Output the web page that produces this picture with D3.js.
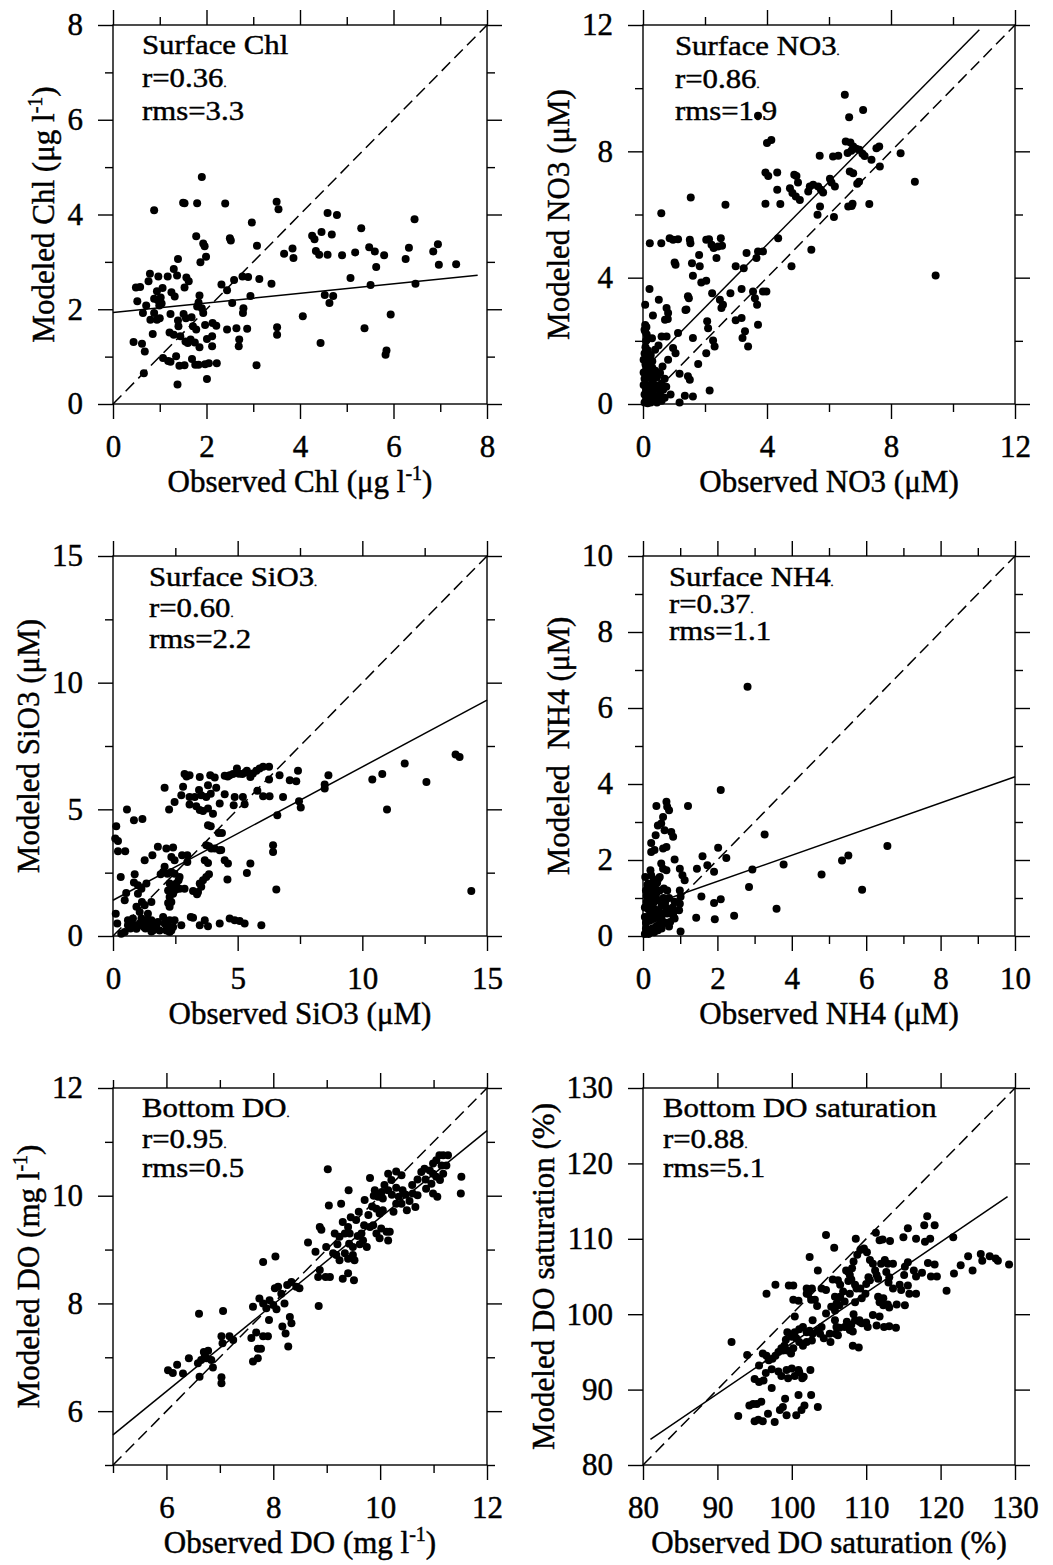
<!DOCTYPE html>
<html>
<head>
<meta charset="utf-8">
<script src="https://cdn.jsdelivr.net/npm/d3@7"></script>
<style>
  body { margin: 0; background: #fff; }
  svg text { font-family: "Liberation Serif", "Times New Roman", serif; fill: #000; stroke: #000; stroke-width: 0.45px; }
</style>
</head>
<body>
<svg id="chart" width="1053" height="1565"></svg>
<script>
// ---- data: [observed, modeled] ----
const chlPts = [
  [1.90,4.79],[0.88,4.09],[1.50,4.25],[1.53,4.24],[1.80,4.24],[2.40,4.23],[3.50,4.27],[3.54,4.11],[2.97,3.83],[1.78,3.54],
  [1.93,3.39],[1.96,3.33],[2.50,3.50],[2.52,3.45],[3.08,3.34],[1.99,3.11],[1.87,2.99],[1.39,3.06],[3.66,3.17],[3.84,3.28],
  [3.86,3.08],[0.79,2.75],[0.49,2.46],[0.58,2.47],[0.76,2.59],[0.97,2.69],[1.17,2.69],[1.30,2.85],[1.37,2.71],[1.57,2.67],
  [1.62,2.59],[1.06,2.45],[0.94,2.38],[1.02,2.25],[0.96,2.19],[0.88,2.22],[1.04,2.12],[0.99,2.08],[1.25,2.36],[1.32,2.27],
  [1.53,2.46],[0.52,2.17],[0.71,2.08],[0.64,1.92],[0.80,1.78],[0.88,1.92],[0.94,1.78],[1.00,1.81],[0.85,1.48],[0.44,1.31],
  [0.62,1.27],[0.68,1.11],[0.66,0.65],[1.07,0.97],[1.18,0.91],[1.23,0.89],[1.35,1.01],[1.42,0.81],[1.53,0.82],[1.69,0.95],
  [1.76,0.83],[1.83,0.83],[1.97,0.84],[2.05,0.86],[2.22,0.86],[1.38,0.41],[2.01,0.53],[3.07,0.82],[1.23,1.90],[1.39,1.76],
  [1.51,1.90],[1.56,1.81],[1.40,1.64],[1.21,1.51],[1.30,1.46],[1.44,1.43],[1.55,1.32],[1.60,1.29],[1.68,1.83],[1.71,1.64],
  [1.78,1.57],[1.66,1.36],[1.75,1.30],[1.85,1.20],[1.83,2.14],[1.85,2.29],[1.90,2.02],[1.93,1.92],[1.80,2.06],[1.97,1.67],
  [2.01,1.37],[2.12,1.43],[2.13,1.71],[2.21,1.65],[2.12,1.22],[2.32,2.52],[2.44,2.40],[2.59,2.62],[2.55,2.13],[2.77,2.69],
  [2.89,2.68],[2.94,2.28],[2.79,2.02],[2.78,1.92],[3.13,2.64],[3.39,2.54],[2.44,1.57],[2.64,1.60],[2.70,1.36],[2.69,1.22],
  [2.87,1.59],[3.51,1.62],[3.51,1.46],[4.06,1.85],[4.26,3.55],[4.31,3.48],[4.46,3.63],[4.59,4.03],[4.79,3.99],[4.34,3.23],
  [4.41,3.15],[4.59,3.15],[4.68,3.58],[4.53,2.30],[4.63,2.13],[4.71,2.28],[4.44,1.29],[4.90,3.14],[5.08,2.66],[5.18,3.20],
  [5.31,3.71],[5.38,1.60],[5.48,3.31],[5.60,3.22],[5.63,2.89],[5.51,2.51],[5.80,3.14],[5.85,1.13],[5.83,1.04],[5.94,1.89],
  [6.26,3.06],[6.33,3.30],[6.45,3.90],[6.47,2.54],[6.85,3.22],[6.95,3.37],[6.97,2.94],[7.34,2.95]
];
const no3Pts = [
  [6.51,9.79],[6.65,9.08],[7.10,9.31],[3.71,9.13],[4.00,8.26],[4.14,8.36],[6.54,8.31],[6.69,8.28],[6.78,8.15],[6.60,7.95],
  [6.72,8.02],[6.88,8.08],[6.98,8.05],[7.08,7.92],[7.15,7.85],[7.37,7.73],[7.53,8.10],[7.62,8.15],[7.64,7.52],[8.31,7.94],
  [8.77,7.04],[9.44,4.07],[7.30,6.33],[6.62,6.25],[6.73,6.27],[6.76,6.34],[6.67,7.36],[6.78,7.31],[6.91,6.97],[6.97,7.04],
  [5.70,7.86],[6.13,7.84],[6.30,7.86],[6.03,7.13],[6.08,7.01],[6.19,6.89],[6.16,5.92],[5.38,6.89],[5.49,6.94],[5.65,6.89],
  [5.74,6.78],[5.33,6.73],[5.81,6.70],[5.71,6.25],[5.63,5.99],[5.43,4.88],[4.79,4.36],[4.88,7.26],[4.95,7.22],[5.00,7.01],
  [4.74,6.83],[4.82,6.68],[4.93,6.57],[5.06,6.46],[3.95,7.33],[4.04,7.22],[4.33,7.33],[4.33,6.78],[3.95,6.34],[4.43,6.33],
  [4.36,5.25],[3.71,4.83],[3.87,4.83],[3.66,4.62],[3.34,4.78],[2.99,4.36],[3.25,4.30],[3.18,3.64],[2.82,3.51],[3.55,3.56],
  [3.61,3.35],[3.68,3.14],[3.87,3.56],[3.98,3.56],[3.71,2.51],[3.18,2.72],[3.29,2.30],[3.21,2.09],[3.39,1.82],[2.99,2.65],
  [2.48,3.30],[2.58,3.14],[2.53,3.04],[2.23,3.51],[2.66,6.31],[1.54,6.54],[0.59,6.04],[0.22,5.09],[0.59,5.09],[0.86,5.25],
  [0.97,5.20],[1.13,5.22],[1.51,5.20],[1.53,5.09],[1.02,4.48],[1.05,4.41],[1.58,4.46],[1.61,4.06],[1.81,4.72],[1.83,4.36],
  [1.88,3.85],[2.04,3.90],[2.04,5.20],[2.13,5.22],[2.21,5.04],[2.28,4.94],[2.42,4.99],[2.51,5.25],[2.55,5.01],[2.37,4.62],
  [1.45,3.41],[1.37,2.98],[1.61,2.09],[1.78,1.27],[2.07,2.62],[2.10,2.40],[2.26,2.01],[2.31,1.82],[2.04,1.61],[2.15,0.43],
  [1.18,0.96],[1.45,0.88],[1.51,0.77],[1.18,0.05],[1.35,0.26],[1.61,0.24],[0.89,0.30],[0.97,1.77],[1.05,1.61],[1.13,2.25],
  [0.21,3.64],[0.07,3.14],[0.51,3.30],[0.76,3.04],[0.81,2.88],[0.71,2.67],[0.80,2.69],[0.32,2.80],[1.40,2.99],[1.48,3.35],
  [0.11,2.44],[0.07,2.30],[0.13,2.04],[0.29,2.08],[0.60,2.14],[0.76,2.14],[0.50,1.85],[0.39,1.72],[0.81,1.40],[0.63,1.19],
  [0.55,0.98],[0.18,1.56],
  [0.05,0.05],[0.10,0.10],[0.15,0.02],[0.20,0.15],[0.25,0.05],[0.30,0.20],[0.35,0.10],[0.40,0.25],[0.45,0.05],[0.50,0.15],
  [0.05,0.30],[0.10,0.45],[0.15,0.60],[0.20,0.40],[0.25,0.55],[0.30,0.70],[0.35,0.45],[0.40,0.60],[0.50,0.50],[0.55,0.30],
  [0.60,0.65],[0.05,0.80],[0.10,0.95],[0.12,1.10],[0.08,1.25],[0.15,1.40],[0.20,0.85],[0.25,1.00],[0.30,1.15],[0.35,0.90],
  [0.40,1.05],[0.45,0.85],[0.05,1.60],[0.08,1.80],[0.10,2.00],[0.12,2.20],[0.05,2.35],[0.07,2.50],[0.15,1.70],[0.20,1.30],
  [0.25,1.55],[0.30,1.35],[0.18,0.30],[0.28,0.35],[0.70,0.80],[0.65,0.45],[0.75,0.55],[0.02,0.60],[0.02,1.00],[0.02,1.40],
  [0.60,0.10],[0.70,0.20]
];
const siPts = [
  [13.74,7.16],[13.90,7.07],[11.70,6.81],[10.80,6.39],[10.40,6.18],[12.57,6.08],[10.99,4.99],[14.37,1.78],[8.64,6.35],[8.49,5.98],
  [8.49,5.82],[7.42,6.52],[7.09,6.15],[7.35,6.11],[7.46,5.32],[7.53,5.07],[6.82,5.49],[6.68,6.35],[6.26,6.18],[6.59,4.77],
  [6.42,3.58],[6.42,3.32],[6.55,1.84],[6.26,6.68],[2.87,6.39],[3.07,6.35],[3.48,6.28],[3.90,6.35],[4.08,6.26],[4.48,6.33],
  [4.68,6.35],[4.81,6.39],[4.97,6.61],[5.19,6.39],[5.37,6.52],[5.51,6.28],[5.61,6.41],[5.75,6.52],[5.88,6.61],[6.02,6.68],
  [5.30,6.45],[5.05,6.40],[4.60,6.30],[2.95,6.30],[2.07,5.85],[2.81,5.89],[4.14,5.85],[3.81,5.95],[3.45,5.76],[3.54,5.56],
  [3.74,5.49],[3.92,5.62],[4.48,5.60],[4.88,5.49],[5.21,5.49],[5.79,5.73],[6.02,5.52],[6.28,5.52],[2.47,5.29],[2.74,5.56],
  [3.07,5.49],[3.28,5.49],[2.25,4.99],[3.07,5.19],[3.34,5.12],[3.48,4.97],[3.61,4.93],[3.81,5.03],[4.01,4.83],[4.28,5.23],
  [4.84,5.16],[5.28,5.20],[3.81,4.37],[4.24,4.07],[3.74,3.58],[3.94,3.45],[4.28,3.38],
  [0.13,4.33],[0.09,3.85],[0.20,3.75],[0.20,3.35],[0.49,3.35],[0.56,4.99],[0.84,4.57],[1.18,4.62],[0.31,2.33],[0.53,1.70],
  [0.47,1.41],[0.87,2.44],[0.84,2.11],[1.00,2.00],[1.00,1.67],[1.14,1.87],[1.34,2.07],[0.11,0.88],[0.17,0.49],[0.33,0.09],
  [0.47,0.16],[0.60,0.62],[0.80,0.69],[0.94,1.15],[1.07,0.95],[1.27,1.21],[1.16,1.34],[1.40,0.88],[1.54,1.34],[1.38,0.62],
  [1.24,0.36],[1.07,0.49],[0.94,0.29],[1.60,0.22],[1.80,0.55],[2.01,0.75],[2.14,0.42],[2.27,0.62],[2.34,0.22],[2.47,0.62],
  [1.87,0.22],[2.14,0.22],[2.27,0.16],[1.80,3.52],[2.14,3.45],[2.41,3.49],[1.58,3.19],[1.27,2.99],[2.07,2.73],[2.01,2.53],
  [1.91,2.44],[2.34,3.12],[2.47,2.99],[2.18,2.46],[2.34,2.53],[2.47,2.46],[2.67,2.33],[2.27,2.07],[2.41,1.94],[2.54,2.07],
  [2.67,1.87],[2.87,1.87],[2.41,1.67],[2.34,1.34],[2.27,1.15],[2.77,3.19],[2.98,3.19],[2.98,2.92],[3.41,1.74],[3.37,1.65],
  [3.48,2.07],[3.61,2.20],[3.74,2.33],[3.85,2.44],[3.68,2.99],[3.81,2.88],[3.85,3.54],[4.08,3.45],[4.34,3.39],[4.37,4.07],
  [3.92,4.33],[3.21,0.72],[3.68,0.62],[3.81,0.38],[4.28,0.49],[4.68,0.69],[4.88,0.62],[5.08,0.59],[5.28,0.49],[5.95,0.42],
  [0.60,0.42],[1.14,0.69],[1.34,0.51],[1.54,0.62],[1.74,0.42],[2.07,0.49],[2.21,0.29],[2.41,0.36],[2.74,0.42],[3.12,0.75],
  [3.48,0.42],[1.54,0.18],[4.48,2.99],[4.61,2.86],[4.59,2.23],[5.51,2.86],[5.37,2.49],[3.21,1.78],[3.54,1.94],[2.63,2.20],
  [2.21,1.80],[2.51,1.83],[2.27,1.54],[2.21,1.30],[1.00,0.40],[1.20,0.55],[1.30,0.30],[1.50,0.45],[1.70,0.30],[0.70,0.30],
  [0.80,0.45]
];
const nh4Pts = [
  [2.81,6.56],[2.09,3.84],[1.21,3.42],[0.36,3.42],[0.63,3.53],[0.65,3.40],[0.70,3.31],[0.54,3.13],[0.40,2.91],[0.49,2.96],
  [0.58,2.78],[0.76,2.74],[0.81,2.61],[0.34,2.65],[0.22,2.45],[0.63,2.34],[0.54,2.30],[0.22,2.21],[0.31,2.26],[0.85,2.01],
  [0.49,1.91],[0.54,1.77],[0.63,1.73],[0.99,1.77],[1.06,1.60],[1.12,1.47],[3.27,2.67],[2.02,2.32],[1.60,2.10],[2.24,2.05],
  [1.73,1.86],[1.45,1.77],[1.91,1.69],[2.94,1.75],[3.78,1.88],[4.80,1.62],[5.35,1.99],[5.52,2.12],[6.57,2.37],[5.89,1.22],
  [2.85,1.29],[1.57,1.04],[2.09,0.97],[1.91,0.87],[3.59,0.72],[1.43,0.48],[1.93,0.44],[2.45,0.53],[1.01,0.12],[0.99,1.20],
  [1.01,1.03],[0.99,0.85],[0.97,0.68],[0.81,0.59],[0.85,0.46],[0.20,1.73],[0.06,1.55],[0.15,1.38],[0.29,1.47],[0.42,1.51],
  [0.56,1.25],[0.65,1.20],[0.82,0.50],[0.73,0.37],[0.65,0.59],
  [0.05,0.05],[0.10,0.15],[0.15,0.05],[0.20,0.10],[0.25,0.20],[0.30,0.10],[0.35,0.25],[0.40,0.15],[0.45,0.30],[0.50,0.20],
  [0.08,0.35],[0.12,0.50],[0.18,0.40],[0.22,0.60],[0.28,0.45],[0.33,0.70],[0.38,0.50],[0.42,0.65],[0.50,0.45],[0.55,0.60],
  [0.60,0.35],[0.70,0.25],[0.05,0.75],[0.10,0.90],[0.15,1.05],[0.20,0.85],[0.25,1.00],[0.30,0.90],[0.35,1.10],[0.40,0.95],
  [0.45,1.20],[0.50,0.80],[0.55,1.00],[0.60,0.90],[0.08,1.20],[0.12,1.35],[0.20,1.25],[0.28,1.15],[0.32,1.30],[0.38,1.40],
  [0.45,1.55],[0.22,1.60],[0.15,0.70],[0.30,0.60],[0.08,0.20],[0.75,0.60],[0.80,0.75],[0.85,0.90],[0.10,1.05],[0.18,0.95],
  [0.26,0.78],[0.62,0.75],[0.70,1.00],[0.05,0.50]
];
const doPts = [
  [6.03,6.76],[6.12,6.71],[6.20,6.86],[6.31,6.70],[6.42,6.98],[6.61,7.81],[6.62,6.64],[6.59,6.89],[6.65,6.95],[6.72,7.04],
  [6.78,7.12],[6.84,6.95],[6.87,6.81],[6.70,7.10],[6.75,6.98],[7.03,6.63],[7.03,6.52],[7.06,7.86],[7.03,7.39],[7.05,7.26],
  [7.18,7.39],[7.25,7.32],[7.59,7.36],[7.62,6.92],[7.71,6.98],[7.71,7.16],[7.77,7.16],[7.68,7.46],[7.81,7.39],[7.90,7.39],
  [7.62,7.94],[7.81,8.77],[8.04,8.87],[7.74,8.09],[7.81,8.00],[7.87,7.91],[7.93,8.06],[8.00,7.97],[8.06,7.89],[7.92,7.69],
  [8.03,8.28],[8.09,8.31],[8.15,8.18],[8.21,8.00],[8.17,7.57],[8.23,7.44],[8.28,7.20],[8.31,7.75],[8.34,7.63],[8.26,8.34],
  [8.34,8.40],[8.43,8.31],[8.49,8.28],[8.65,9.13],[8.79,8.96],[8.84,8.49],[8.87,8.62],[8.87,9.42],[8.90,9.37],[8.85,7.95],
  [9.02,10.49],[9.04,9.82],[8.98,8.49],[9.06,8.49],[8.99,9.05],[9.15,9.30],[9.12,8.93],[9.27,9.85],[9.30,8.46],[9.41,10.10],
  [9.40,8.56],[9.51,8.43],[9.18,8.90],[9.24,8.80],[9.34,8.93],[9.40,8.83],[9.49,8.90],[9.52,8.80],[9.24,9.24],[9.34,9.30],
  [9.42,9.11],[9.49,9.05],[9.30,9.51],[9.40,9.42],[9.43,9.30],[9.71,9.92],[9.78,9.64],[9.81,9.42],[9.81,10.33],[9.65,9.30],
  [9.68,9.17],[9.75,9.05],[9.87,9.45],[9.93,9.30],[9.99,9.21],[9.90,10.10],[9.96,9.98],[10.03,10.07],[9.93,9.76],[9.99,9.67],
  [10.05,9.73],[10.02,9.39],[10.12,9.33],[10.18,9.33],[10.15,9.17],[10.15,10.41],[10.21,10.29],[10.08,10.20],[10.15,10.10],[10.22,10.02],
  [10.30,10.15],[10.35,9.98],[10.42,10.10],[10.48,10.02],[10.55,9.90],[10.30,10.45],[10.40,10.38],[10.50,9.73],[10.66,9.79],[10.61,10.04],
  [10.70,10.01],[10.77,10.44],[10.83,10.50],[10.93,10.47],[10.99,10.41],[11.05,10.35],[10.96,10.22],[11.12,10.29],[10.86,10.13],[10.99,10.04],
  [11.07,9.98],[11.18,10.41],[11.24,10.56],[11.11,10.75],[11.18,10.75],[11.27,10.75],[10.99,10.60],[11.05,10.66],[11.52,10.35],[11.51,10.04],
  [11.15,10.56],[9.55,9.55],[9.60,9.70],[9.70,9.45],[9.85,9.80],[9.88,10.00],[10.05,9.95],[9.58,9.25],[9.62,9.10],[9.45,9.60],
  [9.20,9.10],[10.30,9.85],[10.25,9.70],[10.40,9.85],[10.60,10.20],[10.70,10.30],[10.85,10.30]
];
const satPts = [
  [91.9,96.3],[94.0,94.6],[92.8,86.5],[96.6,102.7],[97.8,103.9],[99.6,103.8],[100.2,103.8],[100.2,101.9],[100.4,99.7],[102.4,107.6],
  [102.0,103.4],[102.2,102.7],[102.6,101.9],[103.5,105.8],[104.6,110.5],[105.7,108.8],[104.0,103.4],[105.5,104.6],[105.8,102.3],[106.0,101.4],
  [108.6,110.0],[111.3,110.8],[111.8,109.8],[112.2,109.9],[113.2,109.7],[115.0,110.2],[115.6,111.4],[116.7,110.0],[117.8,111.8],[118.2,113.0],
  [117.9,109.6],[118.6,110.0],[119.2,111.8],[118.3,106.8],[119.2,106.6],[118.7,105.0],[119.5,105.0],[121.7,110.2],[121.8,105.4],[120.8,103.1],
  [122.7,106.5],[123.7,107.7],[124.3,105.8],[125.4,108.0],[125.6,107.1],[126.6,107.7],[127.4,107.4],[127.7,107.1],[129.2,106.6],[116.4,105.8],
  [116.7,105.0],[115.6,106.9],[115.2,106.3],[115.8,102.7],[114.5,103.9],[114.1,101.3],[113.6,106.7],[112.9,106.7],[112.5,107.2],[112.0,106.7],
  [112.7,105.6],[113.1,104.9],[113.0,104.2],[113.6,103.4],[113.1,98.4],[111.4,98.5],[110.9,99.9],[111.6,102.3],[111.8,101.6],[112.3,101.2],
  [110.5,107.2],[110.9,106.7],[111.2,105.8],[111.4,105.2],[111.6,104.7],[109.2,108.5],[109.7,108.7],[110.1,108.2],[108.8,107.9],[108.3,107.0],
  [108.1,106.1],[107.6,105.6],[107.3,105.8],[107.8,105.2],[110.0,104.0],[110.3,104.9],[110.5,104.5],[109.2,103.4],[109.9,102.7],[109.4,102.1],
  [108.5,101.6],[108.3,100.0],[109.1,99.2],[109.4,98.8],[107.6,104.4],[108.0,104.6],[108.5,103.9],[108.7,103.4],[106.5,103.9],[106.9,103.0],
  [106.5,102.3],[107.1,101.7],[107.8,102.7],[107.4,99.0],[107.1,98.3],[107.8,97.9],[108.2,95.8],[105.3,101.0],[105.8,100.5],[105.8,99.2],
  [106.0,98.3],[106.2,97.2],[105.9,97.4],[104.6,100.1],[105.1,97.4],[105.2,96.3],[104.0,98.3],[103.8,97.4],[104.3,96.8],[103.5,97.8],
  [102.8,97.4],[102.4,97.8],[102.0,97.6],[102.7,96.5],[102.0,96.3],[102.8,99.2],[101.5,98.3],[101.0,98.0],[100.4,97.6],[100.6,96.8],
  [101.0,96.3],[101.5,95.8],[100.0,97.0],[99.4,97.6],[99.2,96.6],[99.0,95.8],[98.8,95.2],[99.4,95.2],[99.9,94.8],[100.2,95.5],
  [98.6,95.5],[98.2,95.0],[97.8,94.5],[97.4,94.1],[96.9,93.9],[96.6,94.5],[96.1,94.8],[95.6,93.2],[96.5,92.2],[97.3,92.7],
  [98.2,92.4],[99.3,92.6],[98.6,91.8],[99.5,91.5],[100.0,92.8],[100.4,91.8],[101.0,92.3],[101.6,91.7],[102.5,92.6],[101.4,91.5],
  [100.9,92.6],[97.3,90.2],[95.0,91.4],[95.6,91.0],[96.2,91.2],[94.3,87.9],[94.8,88.1],[95.3,88.1],[95.9,88.4],[96.8,86.8],
  [95.5,86.0],[95.0,85.8],[96.1,85.8],[97.7,85.7],[99.1,88.8],[98.8,87.7],[98.4,87.3],[99.3,86.6],[100.9,89.3],[100.6,86.6],
  [101.3,87.3],[101.7,87.9],[102.6,89.3],[103.5,87.7],[100.9,101.8],[102.0,102.7],[102.7,103.4],[103.1,101.9],[103.4,101.1],[104.6,103.2],
  [106.2,102.1],[106.4,101.2],[106.4,98.2],[108.0,98.6],[108.5,99.2],[109.1,99.0],[108.2,97.7],[109.0,95.6],[110.0,98.9],[110.2,98.3],
  [111.8,99.7],[112.4,98.3],[114.0,98.2],[112.3,102.1],[112.9,101.3],[113.1,100.9],[115.2,101.2],[114.7,103.2],[115.6,103.8],[116.7,102.7],
  [117.5,105.5],[115.1,105.2],[106.2,104.5]
];

// regression lines (start, end)
const chlFit = [[0, 1.93], [7.8, 2.72]];
const no3Fit = [[0, 1.07], [10.85, 11.85]];
const siFit  = [[0, 1.41], [15, 9.31]];
const nh4Fit = [[0, 0.75], [10, 4.19]];
const doFit  = [[5, 5.56], [12, 11.21]];
const satFit = [[81, 83.4], [129, 115.6]];

// axis ticks
const chlTicks = [0, 2, 4, 6, 8],            chlMinor = [1, 3, 5, 7];
const no3Ticks = [0, 4, 8, 12],              no3Minor = [2, 6, 10];
const siTicks  = [0, 5, 10, 15],             siMinor  = [2.5, 7.5, 12.5];
const nh4Ticks = [0, 2, 4, 6, 8, 10],        nh4Minor = [1, 3, 5, 7, 9];
const doTicks  = [6, 8, 10, 12],             doMinor  = [5, 7, 9, 11];
const satTicks = [80, 90, 100, 110, 120, 130], satMinor = [];

// labels
const panelNames = ["Surface Chl", "Surface NO3", "Surface SiO3", "Surface NH4", "Bottom DO", "Bottom DO saturation"];
const rValues    = ["0.36", "0.86", "0.60", "0.37", "0.95", "0.88"];
const rmsValues  = ["3.3", "1.9", "2.2", "1.1", "0.5", "5.1"];
const nameDot    = [false, true, true, true, true, false];
const xNames = ["Observed Chl", "Observed NO3", "Observed SiO3", "Observed NH4", "Observed DO", "Observed DO saturation"];
const yNames = ["Modeled Chl", "Modeled NO3", "Modeled SiO3", "Modeled  NH4", "Modeled DO", "Modeled DO saturation"];
const units    = ["\u03bcg l", "\u03bcM", "\u03bcM", "\u03bcM", "mg l", "%"];
const unitSups = ["-1", "", "", "", "-1", ""];

// layout
const panels = [
  {pts: chlPts, fit: chlFit, domain: [0, 8],    ticks: chlTicks, minor: chlMinor, left: 113, top: 25,   w: 374, h: 379, tx: 29, ty: [29, 62, 95]},
  {pts: no3Pts, fit: no3Fit, domain: [0, 12],   ticks: no3Ticks, minor: no3Minor, left: 643, top: 25,   w: 372, h: 379, tx: 32, ty: [30, 63, 95]},
  {pts: siPts,  fit: siFit,  domain: [0, 15],   ticks: siTicks,  minor: siMinor,  left: 113, top: 556,  w: 374, h: 380, tx: 36, ty: [30, 61, 92]},
  {pts: nh4Pts, fit: nh4Fit, domain: [0, 10],   ticks: nh4Ticks, minor: nh4Minor, left: 643, top: 556,  w: 372, h: 380, tx: 26, ty: [30, 57, 84]},
  {pts: doPts,  fit: doFit,  domain: [5, 12],   ticks: doTicks,  minor: doMinor,  left: 113, top: 1088, w: 374, h: 377, tx: 29, ty: [29, 60, 89]},
  {pts: satPts, fit: satFit, domain: [80, 130], ticks: satTicks, minor: satMinor, left: 643, top: 1088, w: 372, h: 377, tx: 20, ty: [29, 60, 89]}
];

const fontSize = 31;
const statSize = 28;   // stats block: slightly shorter glyphs, stretched back to width
const svg = d3.select("#chart");

function styleAxis(sel) {
  sel.select(".domain").remove();
  sel.selectAll("line").attr("stroke", "#000").attr("stroke-width", 1.4);
  sel.selectAll("text").attr("font-size", fontSize).attr("fill", "#000")
    .attr("font-family", "Liberation Serif, Times New Roman, serif");
}

panels.forEach((p, i) => {
  const g = svg.append("g").attr("transform", `translate(${p.left},${p.top})`);
  const x = d3.scaleLinear().domain(p.domain).range([0, p.w]);
  const y = d3.scaleLinear().domain(p.domain).range([p.h, 0]);

  // ticks on all four sides, pointing outward
  const sides = [
    {axis: d3.axisBottom, scale: x, tr: `translate(0,${p.h})`, labels: true},
    {axis: d3.axisTop,    scale: x, tr: "translate(0,0)",      labels: false},
    {axis: d3.axisLeft,   scale: y, tr: "translate(0,0)",      labels: true},
    {axis: d3.axisRight,  scale: y, tr: `translate(${p.w},0)`, labels: false}
  ];
  let yLabelAxis;
  sides.forEach(s => {
    const major = g.append("g").attr("transform", s.tr)
      .call(s.axis(s.scale).tickValues(p.ticks).tickSize(15).tickSizeOuter(0)
        .tickPadding(s.axis === d3.axisBottom ? 16 : 15)
        .tickFormat(s.labels ? d3.format("d") : ""));
    styleAxis(major);
    if (s.axis === d3.axisLeft) yLabelAxis = major;
    if (p.minor.length) {
      const minor = g.append("g").attr("transform", s.tr)
        .call(s.axis(s.scale).tickValues(p.minor).tickSize(8).tickSizeOuter(0).tickFormat(""));
      styleAxis(minor);
    }
  });

  // frame
  g.append("rect").attr("width", p.w).attr("height", p.h)
    .attr("fill", "none").attr("stroke", "#000").attr("stroke-width", 1.4);

  const line = d3.line().x(d => x(d[0])).y(d => y(d[1]));
  // 1:1 line
  g.append("path").attr("d", line([[p.domain[0], p.domain[0]], [p.domain[1], p.domain[1]]]))
    .attr("fill", "none").attr("stroke", "#000").attr("stroke-width", 1.5)
    .attr("stroke-dasharray", "12,6");
  // regression line
  g.append("path").attr("d", line(p.fit))
    .attr("fill", "none").attr("stroke", "#000").attr("stroke-width", 1.5);

  // points
  g.selectAll("circle.pt").data(p.pts).enter().append("circle")
    .attr("class", "pt")
    .attr("cx", d => x(d[0])).attr("cy", d => y(d[1]))
    .attr("r", 4).attr("fill", "#000");

  // stats text: one block, three lines
  const st = [panelNames[i], "r=" + rValues[i], "rms=" + rmsValues[i]];
  const dots = [nameDot[i], true, false];
  const block = g.append("text").attr("font-size", statSize)
    .attr("transform", `translate(${p.tx},0) scale(1.1,1)`);
  st.forEach((s, k) => {
    block.append("tspan").attr("x", 0).attr("y", p.ty[k]).text(s);
    if (dots[k]) block.append("tspan").attr("font-size", 11).text(".");
  });

  // x title
  const xt = g.append("text").attr("x", p.w / 2).attr("y", p.h + 88)
    .attr("text-anchor", "middle").attr("font-size", fontSize);
  xt.append("tspan").text(xNames[i] + " (" + units[i]);
  if (unitSups[i]) {
    xt.append("tspan").attr("font-size", 20).attr("dy", -12).text(unitSups[i]);
    xt.append("tspan").attr("dy", 12).text(")");
  } else xt.append("tspan").text(")");

  // y title, placed left of the widest tick label
  let maxW = 0;
  yLabelAxis.selectAll("text").each(function() { maxW = Math.max(maxW, this.getBBox().width); });
  const yx = -(30 + maxW + 13);
  const yt = g.append("text").attr("transform", `translate(${yx},${p.h / 2}) rotate(-90)`)
    .attr("text-anchor", "middle").attr("font-size", fontSize)
    .style("white-space", "pre");
  yt.append("tspan").text(yNames[i] + " (" + units[i]);
  if (unitSups[i]) {
    yt.append("tspan").attr("font-size", 20).attr("dy", -12).text(unitSups[i]);
    yt.append("tspan").attr("dy", 12).text(")");
  } else yt.append("tspan").text(")");
});
</script>
</body>
</html>
